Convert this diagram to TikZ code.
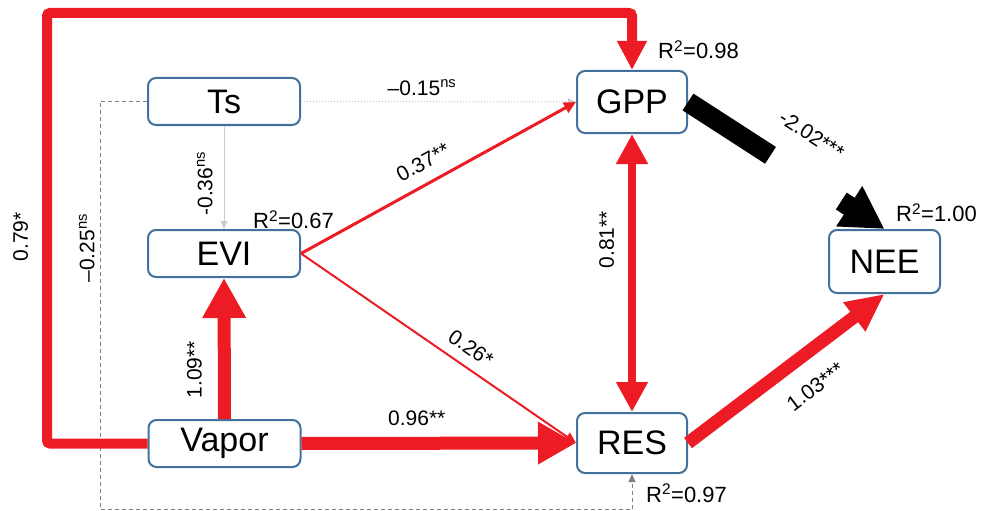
\documentclass[tikz,border=0pt]{standalone}
\usepackage{fontspec}
\setmainfont{Liberation Sans}
\usetikzlibrary{positioning, arrows.meta, calc}
\definecolor{pathred}{RGB}{237,28,36}
\definecolor{boxblue}{RGB}{65,113,156}
\tikzset{
    varnode/.style={
        rectangle,
        rounded corners=8pt,
        draw=boxblue, % 边框颜色
        fill=white,
        line width=2pt,
        minimum width=152pt,
        minimum height=47pt,
        inner sep=0,
        font=\fontsize{34}{34}\selectfont
    },
    fluxnode/.style={
        varnode,
        minimum width=110pt,
        minimum height=62pt
    },
    coeflabel/.style={
        font=\fontsize{21}{21}\selectfont,
        inner sep=0
    },
    rsqlabel/.style={
        font=\fontsize{22}{22}\selectfont,
        inner sep=0
    },
    redline/.style={
        draw=pathred,
        line width=#1
    },
    grayline/.style={
        draw=#1,
        line width=1pt,
        -{Triangle[width=7pt,length=8pt]}
    }
}

\begin{document}
\begin{tikzpicture}[x=1pt, y=-1pt]
    \useasboundingbox (0,0) rectangle (997,511);
    % 变量
    \node[varnode] (Ts) at (224,101.5) {Ts};
    \node[varnode] (EVI) at (224,253.5) {EVI};
    \node[varnode] (Vapor) at (224.5,443.5) {Vapor};
    \node[fluxnode] (GPP) at (632,102) {GPP};
    \node[fluxnode, minimum height=60pt] (RES) at (632,443) {RES};
    \node[fluxnode, minimum width=111pt, minimum height=63pt] (NEE) at (884.5,261.5) {NEE};

    \coordinate (loopCorner) at (47,13);
    \coordinate (dashCorner) at (100,509);
    \coordinate (barEnd) at ($(GPP.east)!0.42!(NEE.north)$);
    \coordinate (headStart) at ($(GPP.east)!0.78!(NEE.north)$);

    % 灰色 (不显著)
    \draw[grayline=gray!45, dotted] (Ts.east) -- node[coeflabel, pos=0.44, anchor=south, inner sep=6pt] {--0.15\textsuperscript{ns}} (GPP.west);
    \draw[grayline=gray!40] (Ts.south) -- node[coeflabel, pos=0.56, rotate=90, anchor=south, inner sep=11pt] {-0.36\textsuperscript{ns}} (EVI.north);
    \draw[grayline=gray, dash pattern=on 4pt off 3pt] (Ts.west) -| node[coeflabel, pos=0.68, rotate=90, anchor=south, inner sep=5pt] {--0.25\textsuperscript{ns}} (dashCorner) -| (RES.south);

    % 红色 (正效应)
    \draw[redline=10pt, rounded corners=3pt, -{Triangle[width=28pt,length=29pt]}]
        (Vapor.west) -| node[coeflabel, pos=0.74, rotate=90, anchor=south, inner sep=14pt] {0.79*} (loopCorner) -| (GPP.north);
    \draw[redline=13pt, -{Triangle[width=41pt,length=40pt]}] (Vapor.north) -- node[coeflabel, pos=0.35, rotate=90, anchor=south, inner sep=16pt] {1.09**} (EVI.south);
    \draw[redline=13pt, -{Triangle[width=40pt,length=38pt]}] (Vapor.east) -- node[coeflabel, pos=0.42, anchor=south, inner sep=11pt] {0.96**} (RES.west);
    \draw[redline=3pt, -{Triangle[width=11pt,length=12pt]}] (EVI.east) -- node[coeflabel, pos=0.48, sloped, anchor=south, inner sep=12pt] {0.37**} (GPP.west);
    \draw[redline=2pt, -{Triangle[width=10pt,length=11pt]}] (EVI.east) -- node[coeflabel, pos=0.58, sloped, anchor=south, inner sep=10pt] {0.26*} (RES.west);
    \draw[redline=8pt, {Triangle[width=30pt,length=30pt]}-{Triangle[width=30pt,length=30pt]}] (GPP.south) -- node[coeflabel, pos=0.38, rotate=90, anchor=south, inner sep=14pt] {0.81**} (RES.north);
    \draw[redline=13pt, -{Triangle[width=34pt,length=38pt]}] (RES.east) -- node[coeflabel, pos=0.55, sloped, anchor=north, inner sep=18pt] {1.03***} (NEE.south);

    % 黑色 (负效应)
    \draw[black, line width=20pt] (GPP.east) -- node[coeflabel, pos=1.24, sloped, anchor=south, inner sep=22pt] {-2.02***} (barEnd);
    \draw[black, line width=20pt, -{Triangle[width=45pt,length=42pt]}] (headStart) -- (NEE.north);

    % R2
    \node[rsqlabel, anchor=south west] (GPPr2) at ([xshift=-30pt, yshift=11pt]GPP.north east) {R\textsuperscript{2}=0.98};
    \node[rsqlabel, anchor=south west] (EVIr2) at ([xshift=-48pt]EVI.north east) {R\textsuperscript{2}=0.67};
    \node[rsqlabel, anchor=south west] (NEEr2) at ([xshift=-45pt, yshift=7pt]NEE.north east) {R\textsuperscript{2}=1.00};
    \node[rsqlabel, anchor=north west] (RESr2) at ([xshift=-42pt, yshift=-10pt]RES.south east) {R\textsuperscript{2}=0.97};
\end{tikzpicture}
\end{document}
